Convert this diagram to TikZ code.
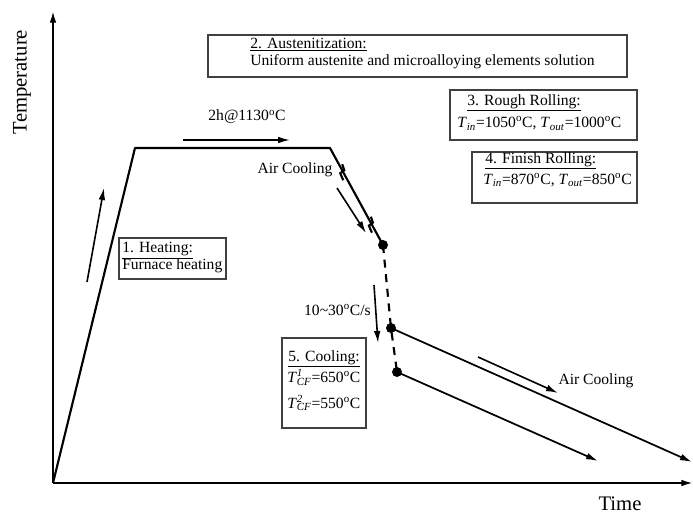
\documentclass[tikz,border=0pt]{standalone}
\usepackage{fontspec}
\setmainfont{Liberation Serif}
\usetikzlibrary{arrows.meta,calc}
\newcommand{\degc}{\textsuperscript{o}C}
\newcommand{\Tsub}[1]{\textit{T}\textsubscript{\textit{#1}}}
\newcommand{\Tcf}[1]{\textit{T}\makebox[0pt][l]{\textsuperscript{\textit{#1}}}\textsubscript{\textit{CF}}}
\tikzset{
  proc/.style={line width=1.6pt},
  axisline/.style={line width=0.9pt,-{Latex[length=8pt,width=5pt]}},
  ann/.style={line width=1.2pt,-{Latex[length=9pt,width=5pt]}},
  boxrect/.style={draw=black!75,line width=0.9pt,inner sep=0pt},
  dotnode/.style={circle,fill=black,inner sep=0pt,minimum size=7.5pt},
  lbl/.style={font=\fontsize{11.7}{14}\selectfont,inner sep=0pt},
  biglbl/.style={font=\fontsize{15.5}{18}\selectfont,inner sep=0pt},
  boxtxt/.style={lbl,align=left,anchor=north west},
}
\begin{document}
\begin{tikzpicture}[x=0.75pt,y=-0.75pt]
\useasboundingbox (0,0) rectangle (693,516);
% axes
\coordinate (O) at (53,483);
\coordinate (Ytop) at (53,12);
\coordinate (Xend) at (692,483);
\draw[axisline] (O) -- (Ytop);
\draw[axisline] (O) -- (Xend);
\node[biglbl,rotate=90] (tlab) at (22,82) {Temperature};
\node[biglbl] (xlab) at (620,504) {Time};
% process curve
\coordinate (P1) at (135,148);
\coordinate (P2) at (330,148);
\node[dotnode] (D1) at (383,245) {};
\node[dotnode] (D2) at (391,328) {};
\node[dotnode] (D3) at (397,372) {};
\coordinate (E1) at (692,462);
\coordinate (E2) at (598,461);
\draw[proc,line join=round] (O) -- (P1) -- (P2) -- (D1.center);
\draw[proc,dash pattern=on 6pt off 5pt] (D1.center) -- (D2.center) -- (D3.center);
\draw[proc,line width=1.3pt,-{Latex[length=9pt,width=5pt]}] (D2.center) -- (E1);
\draw[proc,line width=1.3pt,-{Latex[length=9pt,width=5pt]}] (D3.center) -- (E2);
% break marks
\foreach \t in {0.25,0.79}{
  \draw[line width=1.6pt,line join=miter] ($(P2)!\t!(D1)$) ++(-1,-8) -- ++(2,6) -- ++(-4,3) -- ++(3,7);
}
% annotation arrows
\coordinate (H1) at (87,282); \coordinate (H2) at (104,188);
\draw[ann] (H1) -- (H2);
\coordinate (A1) at (183,140); \coordinate (A2) at (290,140);
\draw[ann] (A1) -- (A2);
\coordinate (C1) at (337,188); \coordinate (C2) at (366,233);
\draw[ann] (C1) -- (C2);
\coordinate (V1) at (374,285); \coordinate (V2) at (378,343);
\draw[ann] (V1) -- (V2);
\coordinate (L1) at (478,357); \coordinate (L2) at (558,393);
\draw[ann] (L1) -- (L2);
% labels
\node[lbl] (hold) at (247,117) {2h@1130\degc};
\node[lbl] (ac1) at (295,170) {Air Cooling};
\node[lbl,anchor=east] (rate) at (371,310) {10\textasciitilde30\degc/s};
\node[lbl] (ac2) at (596,381) {Air Cooling};
% box 1
\node[boxrect,minimum width=80.25pt,minimum height=30.75pt] (b1) at (172.5,258.5) {};
\node[boxtxt] (t1) at (122,242) {\underline{1. Heating:}\\[-1.5pt]Furnace heating};
% box 2
\node[boxrect,minimum width=314.25pt,minimum height=31.5pt] (b2) at (417.5,56) {};
\node[boxtxt] (t2) at (250,38) {\underline{2. Austenitization:}\\[-1.5pt]Uniform austenite and microalloying elements solution};
% box 3
\node[boxrect,minimum width=140.25pt,minimum height=37.5pt] (b3) at (543.5,115) {};
\node[boxtxt] (t3) at (457,94) {\hspace*{7.5pt}\underline{3. Rough Rolling:}\\[3pt]\Tsub{in}=1050\degc, \Tsub{out}=1000\degc};
% box 4
\node[boxrect,minimum width=123.75pt,minimum height=38.25pt] (b4) at (554.5,177.5) {};
\node[boxtxt] (t4) at (483,152) {\hspace*{1.5pt}\underline{4. Finish Rolling:}\\[2pt]\Tsub{in}=870\degc, \Tsub{out}=850\degc};
% box 5
\node[boxrect,minimum width=63pt,minimum height=67.5pt] (b5) at (324,383) {};
\node[boxtxt] (t5) at (287,350) {\hspace*{0.75pt}\underline{5. Cooling:}\\[1pt]\Tcf{1}=650\degc\\[5pt]\Tcf{2}=550\degc};
\end{tikzpicture}
\end{document}
